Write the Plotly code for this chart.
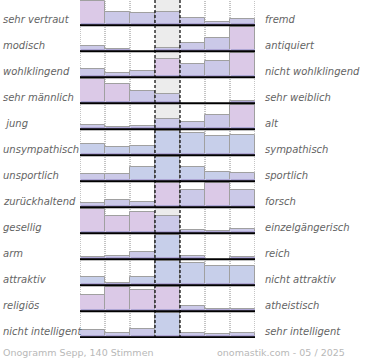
import plotly.graph_objects as go

left_labels = ["sehr vertraut", "modisch", "wohlklingend", "sehr männlich", " jung",
               "unsympathisch", "unsportlich", "zurückhaltend", "gesellig", "arm",
               "attraktiv", "religiös", "nicht intelligent"]
right_labels = ["fremd", "antiquiert", "nicht wohlklingend", "sehr weiblich", "alt",
                "sympathisch", "sportlich", "forsch", "einzelgängerisch", "reich",
                "nicht attraktiv", "atheistisch", "sehr intelligent"]

# relative vote share per scale step (row maximum = 100)
values = [
    [100, 55, 51, 55, 28, 15, 25],
    [23, 7, 0, 13, 34, 54, 100],
    [35, 19, 26, 74, 54, 66, 100],
    [100, 79, 50, 38, 0, 0, 9],
    [17, 9, 13, 43, 31, 59, 100],
    [47, 35, 39, 100, 92, 79, 84],
    [31, 31, 57, 100, 57, 39, 33],
    [18, 31, 22, 100, 72, 99, 71],
    [100, 71, 87, 71, 13, 9, 17],
    [8, 13, 31, 100, 12, 0, 10],
    [33, 9, 33, 100, 89, 77, 77],
    [68, 100, 86, 97, 22, 7, 9],
    [29, 19, 34, 100, 19, 15, 18],
]

# bar tint per cell (style)
tones = [
    "pllllll", "llllllp", "lllpllp", "pplllll", "llllllp",
    "bbbbbbb", "llbbbbl", "lllplpl", "pppllll", "lllblll",
    "blbbbbb", "pppplll", "lllblll",
]
tone_col = {"p": "#dbc9e7", "l": "#cbc9e8", "b": "#c7cfea"}

W, H = 370, 360
ML, MR, MT, MB = 80, 115, 0, 22
PW = W - ML - MR
PH = H - MT - MB
ROW = 26.0
FULL = 24.5 / ROW
n = len(values)
ymax = (n - 1) + 25.2 / ROW
ymin = ymax - n

fig = go.Figure()

xs, bases, hs, cols = [], [], [], []
dx, dbase, dh = [], [], []
for i, row in enumerate(values):
    base = (n - 1) - i
    for j, v in enumerate(row):
        h = v / 100 * FULL
        if h <= 0:
            continue
        xs.append(j + 0.5)
        bases.append(base)
        hs.append(h)
        cols.append(tone_col[tones[i][j]])
        dx.append(j + 0.5)
        dbase.append(base)
        dh.append(min(h, 2.5 / ROW))

fig.add_trace(go.Bar(x=xs, y=hs, base=bases, width=1,
                     marker=dict(color=cols, line=dict(color="#a0a0a0", width=1)),
                     hoverinfo="skip", showlegend=False))
fig.add_trace(go.Bar(x=dx, y=dh, base=dbase, width=0.96,
                     marker=dict(color="#ada5d4", line=dict(width=0)),
                     hoverinfo="skip", showlegend=False))

shapes = []
shapes.append(dict(type="rect", xref="x", yref="y", x0=3, x1=4, y0=ymin, y1=ymax,
                   fillcolor="#ececec", line=dict(width=0), layer="below"))
for k in [0, 1, 2, 5, 6, 7]:
    shapes.append(dict(type="line", xref="x", yref="y", x0=k, x1=k, y0=ymin, y1=ymax,
                       line=dict(color="#8a8a8a", width=1, dash="1px,1px"), layer="below"))
for k in [3, 4]:
    shapes.append(dict(type="line", xref="x", yref="y", x0=k, x1=k, y0=ymin, y1=ymax,
                       line=dict(color="#000000", width=1.2, dash="3px,2px"), layer="above"))
for i in range(n):
    base = (n - 1) - i
    shapes.append(dict(type="line", xref="x", yref="y", x0=0, x1=7, y0=base, y1=base,
                       line=dict(color="#000000", width=2), layer="above"))

annotations = []
lab_font = dict(family="DejaVu Sans", size=10, color="#646464", style="italic")
for i in range(n):
    base = (n - 1) - i
    yc = base + 5.5 / ROW
    annotations.append(dict(xref="paper", yref="y", x=(1 - ML) / PW, y=yc,
                            text=left_labels[i], showarrow=False, xanchor="left",
                            yanchor="middle", font=lab_font))
    annotations.append(dict(xref="paper", yref="y", x=(263 - ML) / PW, y=yc,
                            text=right_labels[i], showarrow=False, xanchor="left",
                            yanchor="middle", font=lab_font))
foot_font = dict(family="DejaVu Sans", size=9.5, color="#b8b8b8")
annotations.append(dict(xref="paper", yref="paper", x=(1 - ML) / PW, y=-(352 - PH) / PH,
                        text="Onogramm Sepp, 140 Stimmen", showarrow=False,
                        xanchor="left", yanchor="middle", font=foot_font))
annotations.append(dict(xref="paper", yref="paper", x=(347 - ML) / PW, y=-(352 - PH) / PH,
                        text="onomastik.com - 05 / 2025", showarrow=False,
                        xanchor="right", yanchor="middle", font=foot_font))

fig.update_layout(
    width=W, height=H,
    margin=dict(l=ML, r=MR, t=MT, b=MB, pad=0),
    paper_bgcolor="white", plot_bgcolor="white",
    barmode="overlay", bargap=0,
    xaxis=dict(range=[0, 7], visible=False, fixedrange=True),
    yaxis=dict(range=[ymin, ymax], visible=False, fixedrange=True),
    shapes=shapes, annotations=annotations,
    showlegend=False,
)

fig.write_html("out.html", config={"displayModeBar": False},
               post_script="document.body.style.margin='0';document.body.style.overflow='hidden';")
